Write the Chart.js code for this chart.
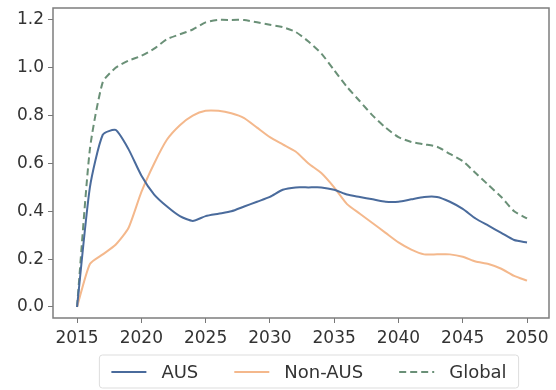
<!DOCTYPE html>
<html lang="en">
<head>
    <meta charset="UTF-8">
    <title>AUS / Non-AUS / Global</title>
    <script src="https://cdn.jsdelivr.net/npm/chart.js"></script>
    <style>
        html, body { margin: 0; padding: 0; background: #fff; }
        #wrap { width: 556px; height: 390px; }
    </style>
</head>
<body>
    <div id="wrap"><canvas id="chart" width="556" height="390"></canvas></div>
    <script>
        const years = [2015, 2016, 2017, 2018, 2019, 2020, 2021, 2022, 2023, 2024, 2025, 2026,
                       2027, 2028, 2029, 2030, 2031, 2032, 2033, 2034, 2035, 2036, 2037, 2038,
                       2039, 2040, 2041, 2042, 2043, 2044, 2045, 2046, 2047, 2048, 2049, 2050];
        const aus = [0.00, 0.50, 0.72, 0.74, 0.66, 0.55, 0.47, 0.42, 0.38, 0.36, 0.38, 0.39,
                     0.40, 0.42, 0.44, 0.46, 0.49, 0.50, 0.50, 0.50, 0.49, 0.47, 0.46, 0.45,
                     0.44, 0.44, 0.45, 0.46, 0.46, 0.44, 0.41, 0.37, 0.34, 0.31, 0.28, 0.27];
        const nonAus = [0.00, 0.18, 0.22, 0.26, 0.33, 0.48, 0.60, 0.70, 0.76, 0.80, 0.82, 0.82,
                        0.81, 0.79, 0.75, 0.71, 0.68, 0.65, 0.60, 0.56, 0.50, 0.43, 0.39, 0.35,
                        0.31, 0.27, 0.24, 0.22, 0.22, 0.22, 0.21, 0.19, 0.18, 0.16, 0.13, 0.11];
        const globalVals = [0.00, 0.66, 0.94, 1.00, 1.03, 1.05, 1.08, 1.12, 1.14, 1.16, 1.19, 1.20,
                            1.20, 1.20, 1.19, 1.18, 1.17, 1.15, 1.11, 1.06, 0.99, 0.92, 0.86, 0.80,
                            0.75, 0.71, 0.69, 0.68, 0.67, 0.64, 0.61, 0.56, 0.51, 0.46, 0.40, 0.37];
        const xTicks = [2015, 2020, 2025, 2030, 2035, 2040, 2045, 2050];
        const yTicks = [0.0, 0.2, 0.4, 0.6, 0.8, 1.0, 1.2];

        const toPoints = vals => years.map((y, i) => ({ x: y, y: vals[i] }));

        // plot frame + a matplotlib-like legend box under the axis
        const framePlugin = {
            id: 'frames',
            afterDraw(chart) {
                const ctx = chart.ctx;
                const a = chart.chartArea;
                ctx.save();
                ctx.strokeStyle = '#7d7d7d';
                ctx.lineWidth = 1.5;
                ctx.strokeRect(a.left, a.top, a.right - a.left, a.bottom - a.top);

                // legend
                const lineLen = 35, gapText = 15, gapItem = 36;
                const cy = 372;
                ctx.font = '18px "DejaVu Sans"';
                ctx.textBaseline = 'middle';
                const items = chart.data.datasets.map(ds => ({
                    text: ds.label, color: ds.borderColor, dash: ds.borderDash || [],
                    w: ctx.measureText(ds.label).width
                }));
                let total = 0;
                items.forEach((it, i) => { total += lineLen + gapText + it.w + (i ? gapItem : 0); });
                let x = (a.left + a.right) / 2 + 8 - total / 2;

                ctx.strokeStyle = '#dddddd';
                ctx.lineWidth = 1;
                ctx.beginPath();
                ctx.roundRect(x - 12, 355, total + 24, 33, 3);
                ctx.stroke();

                items.forEach(it => {
                    ctx.strokeStyle = it.color;
                    ctx.lineWidth = 2;
                    ctx.setLineDash(it.dash);
                    ctx.beginPath();
                    ctx.moveTo(x, cy);
                    ctx.lineTo(x + lineLen, cy);
                    ctx.stroke();
                    ctx.setLineDash([]);
                    ctx.fillStyle = '#333';
                    ctx.fillText(it.text, x + lineLen + gapText, cy + 1);
                    x += lineLen + gapText + it.w + gapItem;
                });
                ctx.restore();
            }
        };

        const ctx = document.getElementById('chart').getContext('2d');
        new Chart(ctx, {
            type: 'line',
            data: {
                datasets: [
                    {
                        label: 'AUS',
                        data: toPoints(aus),
                        borderColor: '#4a6b9c',
                        borderWidth: 2,
                        pointRadius: 0,
                        tension: 0.2
                    },
                    {
                        label: 'Non-AUS',
                        data: toPoints(nonAus),
                        borderColor: '#f4b88c',
                        borderWidth: 2,
                        pointRadius: 0,
                        tension: 0.2
                    },
                    {
                        label: 'Global',
                        data: toPoints(globalVals),
                        borderColor: '#6a9077',
                        borderWidth: 2,
                        borderDash: [7, 4],
                        pointRadius: 0,
                        tension: 0.2
                    }
                ]
            },
            options: {
                responsive: false,
                animation: false,
                layout: { padding: { left: 0, right: 7, top: 8, bottom: 36 } },
                plugins: {
                    tooltip: { enabled: false },
                    legend: { display: false }
                },
                scales: {
                    x: {
                        type: 'linear',
                        min: 2013.13,
                        max: 2051.71,
                        afterBuildTicks: s => { s.ticks = xTicks.map(v => ({ value: v })); },
                        afterFit: s => { s.height = 36; },
                        grid: { display: true, drawOnChartArea: false, drawTicks: true, tickLength: 5, color: '#777' },
                        border: { display: false },
                        ticks: {
                            color: '#333',
                            padding: 5,
                            maxRotation: 0,
                            font: { family: 'DejaVu Sans', size: 17 },
                            callback: v => String(v)
                        }
                    },
                    y: {
                        type: 'linear',
                        min: -0.046,
                        max: 1.25,
                        afterBuildTicks: s => { s.ticks = yTicks.map(v => ({ value: v })); },
                        afterFit: s => { s.width = 53; s.paddingTop = 0; s.paddingBottom = 0; },
                        grid: { display: true, drawOnChartArea: false, drawTicks: true, tickLength: 5, color: '#777' },
                        border: { display: false },
                        ticks: {
                            color: '#333',
                            padding: 4,
                            font: { family: 'DejaVu Sans', size: 17 },
                            callback: v => v.toFixed(1)
                        }
                    }
                }
            },
            plugins: [framePlugin]
        });
    </script>
</body>
</html>
